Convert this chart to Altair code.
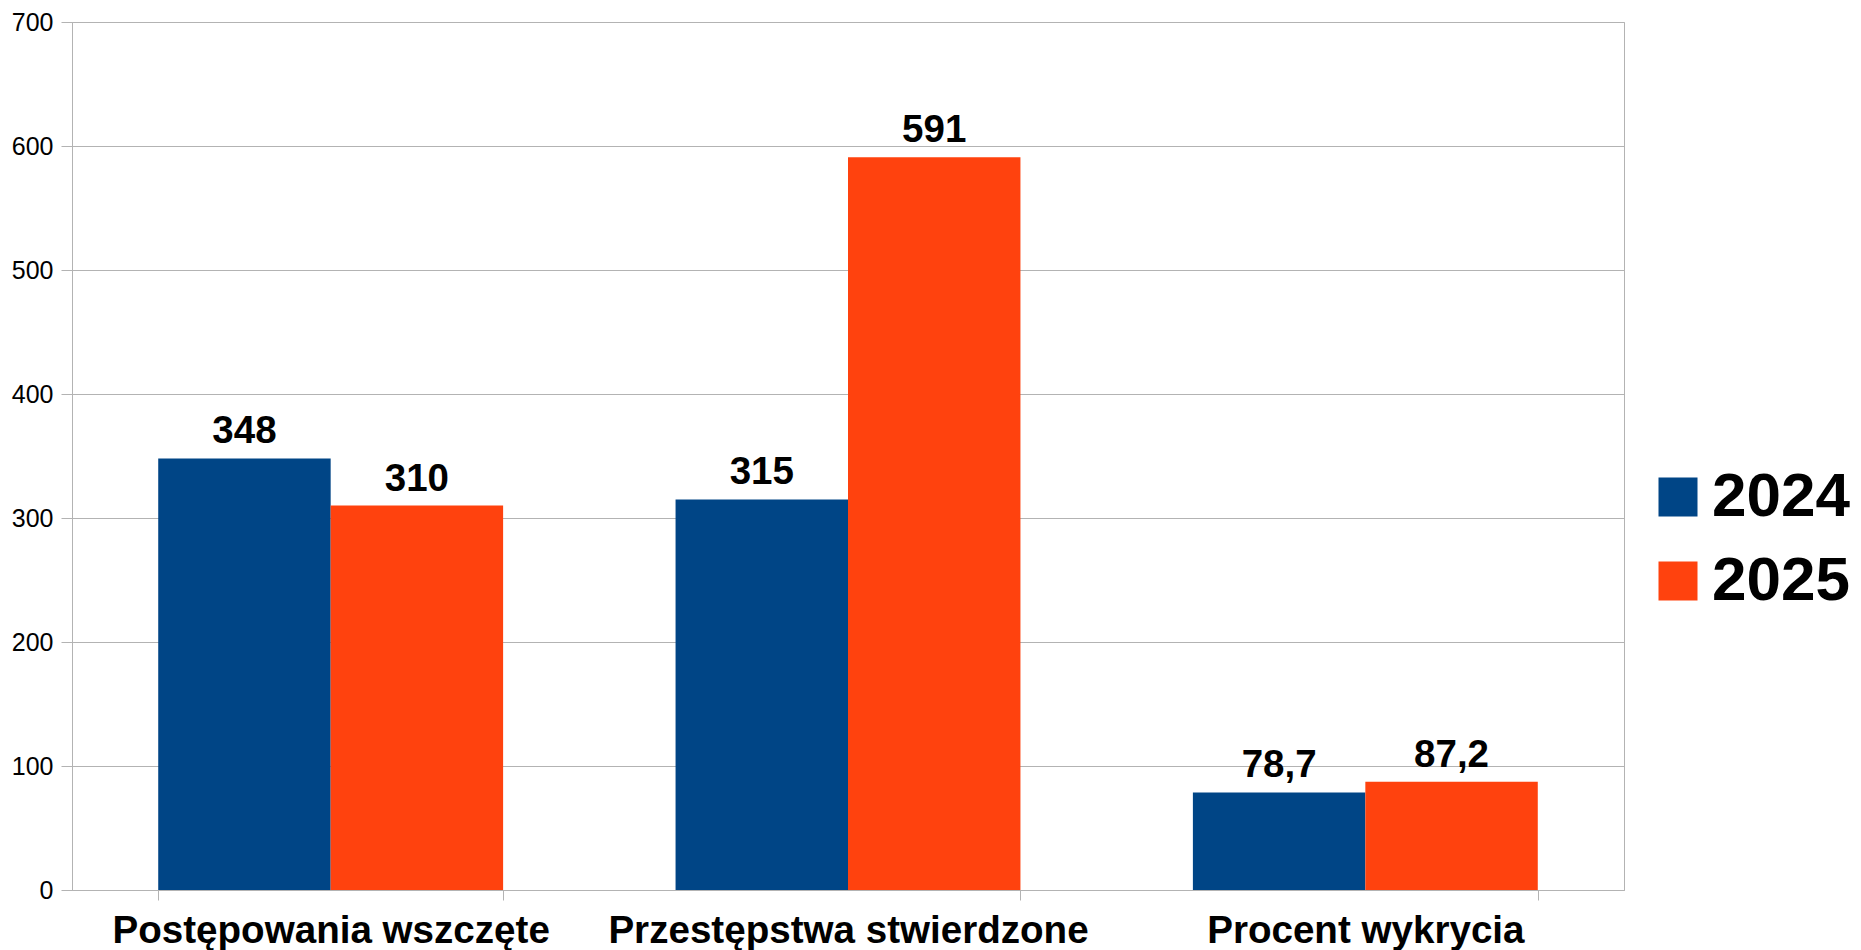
import altair as alt
import pandas as pd

categories = ["Postępowania wszczęte", "Przestępstwa stwierdzone", "Procent wykrycia"]
years = ["2024", "2025"]
values_2024 = [348, 315, 78.7]
values_2025 = [310, 591, 87.2]
colors = ["#004586", "#ff420e"]
y_ticks = [0, 100, 200, 300, 400, 500, 600, 700]

rows = []
for yr, vals in zip(years, [values_2024, values_2025]):
    for c, v in zip(categories, vals):
        rows.append({"cat": c, "year": yr, "value": v,
                     "label": f"{v:g}".replace(".", ",")})
df = pd.DataFrame(rows)

FONT = "Liberation Sans"
GRID = "#b3b3b3"

x = alt.X(
    "cat:N", sort=categories, title=None,
    scale=alt.Scale(paddingInner=1 / 3, paddingOuter=1 / 6),
    axis=alt.Axis(labelAngle=0, labelFont=FONT, labelFontSize=38.6,
                  labelFontWeight="bold", labelColor="black",
                  tickBand="extent", tickSize=10, tickColor=GRID,
                  domainColor=GRID, labelBaseline="alphabetic",
                  labelPadding=42, grid=False, labelLimit=0),
)
xoff = alt.XOffset("year:N", sort=years,
                   scale=alt.Scale(paddingInner=0, paddingOuter=0))
y = alt.Y(
    "value:Q", title=None,
    scale=alt.Scale(domain=[0, 700], nice=False, zero=True),
    axis=alt.Axis(values=y_ticks, labelFont=FONT, labelFontSize=25,
                  labelColor="black", tickSize=11, tickColor=GRID,
                  domainColor=GRID, gridColor=GRID, labelPadding=8),
)
color = alt.Color(
    "year:N", sort=years,
    scale=alt.Scale(domain=years, range=colors),
    legend=alt.Legend(title=None, orient="none", legendX=1575, legendY=444,
                      symbolType="square", symbolSize=1521,
                      symbolStrokeWidth=0, symbolOpacity=1,
                      labelFont=FONT, labelFontSize=62,
                      labelFontWeight="bold", labelColor="black",
                      labelOffset=3, rowPadding=22, padding=0),
)

bars = alt.Chart(df).mark_bar().encode(x=x, xOffset=xoff, y=y, color=color)
labels = alt.Chart(df).mark_text(
    dy=-15, baseline="alphabetic", align="center", fontSize=38.5,
    fontWeight="bold", font=FONT, color="black"
).encode(x=x, xOffset=xoff, y=y, text="label:N")

chart = alt.layer(bars, labels).properties(
    width=1552, height=868,
    autosize=alt.AutoSizeParams(type="none"),
    padding={"left": 64, "top": 14, "right": 229, "bottom": 60},
).configure_view(stroke=GRID, strokeWidth=1)

chart.save("out.html", embed_options={"renderer": "svg", "actions": False})
